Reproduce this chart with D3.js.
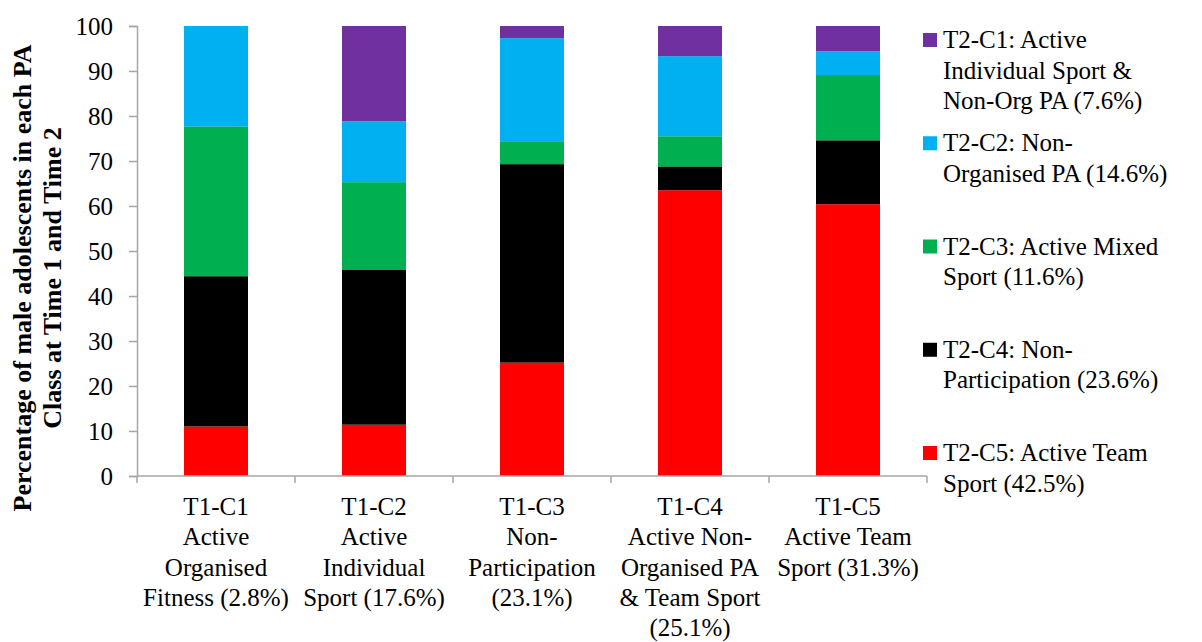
<!DOCTYPE html>
<html>
<head>
<meta charset="utf-8">
<script src="https://cdn.jsdelivr.net/npm/d3@7"></script>
<style>
  html, body { margin: 0; padding: 0; background: #fff; }
  svg { display: block; }
</style>
</head>
<body>
<svg id="chart" width="1202" height="642"></svg>
<script>
// ---- Data ----
const categories = ["T1-C1", "T1-C2", "T1-C3", "T1-C4", "T1-C5"];
const categoryLabels = [
  ["T1-C1", "Active", "Organised", "Fitness (2.8%)"],
  ["T1-C2", "Active", "Individual", "Sport (17.6%)"],
  ["T1-C3", "Non-", "Participation", "(23.1%)"],
  ["T1-C4", "Active Non-", "Organised PA", "& Team Sport", "(25.1%)"],
  ["T1-C5", "Active Team", "Sport (31.3%)"]
];
const seriesKeys = ["C5", "C4", "C3", "C2", "C1"]; // stacking order, bottom to top
const c5ActiveTeam    = [11.0, 11.4, 25.2, 63.5, 60.4];
const c4NonPart       = [33.4, 34.5, 44.1, 5.3, 14.2];
const c3ActiveMixed   = [33.3, 19.4, 5.1, 6.7, 14.5];
const c2NonOrgPA      = [22.3, 13.5, 22.9, 17.8, 5.3];
const c1ActiveIndiv   = [0.0, 21.2, 2.7, 6.7, 5.6];
const seriesColors = { C1: "#7030A0", C2: "#00B0F0", C3: "#00B050", C4: "#000000", C5: "#FF0000" };
const legendKeys = ["C1", "C2", "C3", "C4", "C5"];
const legendLabels = [
  ["T2-C1: Active", "Individual Sport &", "Non-Org PA (7.6%)"],
  ["T2-C2: Non-", "Organised PA (14.6%)"],
  ["T2-C3: Active Mixed", "Sport (11.6%)"],
  ["T2-C4: Non-", "Participation (23.6%)"],
  ["T2-C5: Active Team", "Sport (42.5%)"]
];
const yTicks = [0, 10, 20, 30, 40, 50, 60, 70, 80, 90, 100];
const yTitle = ["Percentage of male adolescents in each PA", "Class at Time 1 and Time 2"];

const table = categories.map((c, i) => ({
  cat: c,
  C5: c5ActiveTeam[i], C4: c4NonPart[i], C3: c3ActiveMixed[i],
  C2: c2NonOrgPA[i], C1: c1ActiveIndiv[i]
}));

// ---- Layout ----
const FONT = "'Liberation Serif', Tinos, 'Times New Roman', 'DejaVu Serif', serif";
const svg = d3.select("#chart").style("font-family", FONT);
const plotLeft = 137, plotRight = 927, plotTop = 26, plotBottom = 476;
const axisColor = "#a6a6a6";

const x = d3.scaleBand().domain(categories).range([plotLeft, plotRight])
  .paddingInner(0.595).paddingOuter(0.2975);
const y = d3.scaleLinear().domain([0, 100]).range([plotBottom, plotTop]);

const stacked = d3.stack().keys(seriesKeys)(table);

svg.append("g").selectAll("g").data(stacked).join("g")
  .attr("fill", d => seriesColors[d.key])
  .selectAll("rect").data(d => d).join("rect")
  .attr("x", d => x(d.data.cat))
  .attr("width", x.bandwidth())
  .attr("y", d => y(d[1]))
  .attr("height", d => Math.max(0, y(d[0]) - y(d[1])));

// Y axis
const yAxis = svg.append("g").attr("transform", `translate(${plotLeft},0)`)
  .call(d3.axisLeft(y).tickValues(yTicks).tickSize(8).tickPadding(16).tickFormat(d3.format("d")));
yAxis.attr("font-family", null).attr("font-size", null);
yAxis.select(".domain").attr("stroke", axisColor).attr("stroke-width", 1.5);
yAxis.selectAll(".tick line").attr("stroke", axisColor).attr("stroke-width", 1.5);
yAxis.selectAll(".tick text").style("font-family", FONT).style("font-size", "25px")
  .attr("fill", "#000").attr("dy", "0.33em");

// X axis line + ticks at band boundaries
const step = x.step();
const boundaries = d3.range(categories.length + 1).map(i => plotLeft + i * step);
svg.append("line").attr("x1", plotLeft).attr("x2", plotRight).attr("y1", plotBottom).attr("y2", plotBottom)
  .attr("stroke", axisColor).attr("stroke-width", 1.5);
svg.append("g").selectAll("line").data(boundaries).join("line")
  .attr("x1", d => d).attr("x2", d => d).attr("y1", plotBottom).attr("y2", plotBottom + 7)
  .attr("stroke", axisColor).attr("stroke-width", 1.5);

// X labels
const xl = svg.append("g").selectAll("text").data(categoryLabels).join("text")
  .attr("text-anchor", "middle").style("font-family", FONT).style("font-size", "25px")
  .attr("transform", (d, i) => `translate(${x(categories[i]) + x.bandwidth() / 2},515)`);
xl.selectAll("tspan").data(d => d).join("tspan")
  .attr("x", 0).attr("y", (d, j) => j * 30.3).text(d => d);

// Y title
const yt = svg.append("text").attr("text-anchor", "middle")
  .style("font-family", FONT).style("font-size", "26px").style("font-weight", "bold")
  .attr("transform", "translate(31,278) rotate(-90)");
yt.selectAll("tspan").data(yTitle).join("tspan")
  .attr("x", 0).attr("y", (d, j) => j * 30).text(d => d);

// Legend
const lg = svg.append("g").selectAll("g").data(legendKeys).join("g")
  .attr("transform", (d, i) => `translate(923,${40 + i * 103.25})`);
lg.append("rect").attr("x", 0).attr("y", -7).attr("width", 14).attr("height", 14)
  .attr("fill", d => seriesColors[d]);
const lt = lg.append("text").style("font-family", FONT).style("font-size", "25px");
lt.selectAll("tspan").data((d, i) => legendLabels[i]).join("tspan")
  .attr("x", 20).attr("y", (d, j) => 8 + j * 30.5).text(d => d);
</script>
</body>
</html>
